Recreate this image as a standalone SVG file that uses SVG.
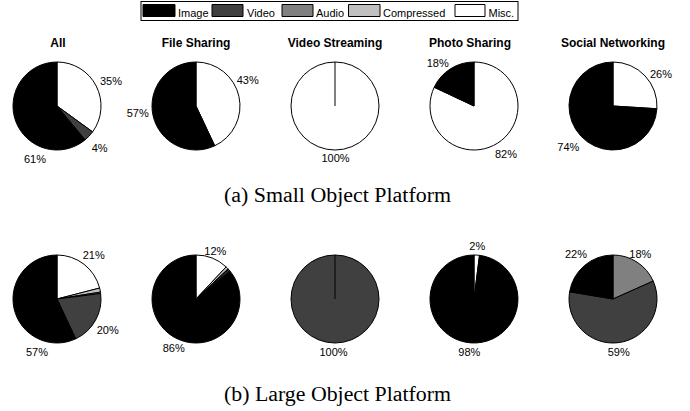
<svg xmlns="http://www.w3.org/2000/svg" width="690" height="411" viewBox="0 0 690 411">
<style>
.lab{font-family:"Liberation Sans",Arial,sans-serif;font-size:11px;fill:#000}
.ttl{font-family:"Liberation Sans",Arial,sans-serif;font-size:12px;font-weight:bold;fill:#000;text-anchor:middle}
.cap{font-family:"Liberation Serif","Times New Roman",serif;font-size:20px;fill:#000}
.s{stroke:#000;stroke-width:1;stroke-linejoin:round}
.img{fill:#000}.vid{fill:#404040}.aud{fill:#808080}.cmp{fill:#c0c0c0}.msc{fill:#fff}
</style>
<rect width="690" height="411" fill="#fff"/>
<g id="legend">
<rect x="141" y="1.5" width="377" height="19" fill="#fff" stroke="#000" stroke-width="1"/>
<rect class="img s" x="143" y="4.5" width="32" height="12"/>
<text class="lab" x="178" y="16.5">Image</text>
<rect class="vid s" x="212" y="4.5" width="31" height="12"/>
<text class="lab" x="247" y="16.5">Video</text>
<rect class="aud s" x="282" y="4.5" width="31" height="12"/>
<text class="lab" x="316" y="16.5">Audio</text>
<rect class="cmp s" x="348.5" y="4.5" width="31.5" height="12"/>
<text class="lab" x="383" y="16.5">Compressed</text>
<rect class="msc s" x="455" y="4.5" width="30" height="12"/>
<text class="lab" x="488.5" y="16.5">Misc.</text>
</g>
<g id="small-all">
<text class="ttl" x="58" y="47">All</text>
<path class="msc s" d="M57,106 L57,62 A44,44 0 0 1 92.6,131.86 Z"/>
<path class="vid s" d="M57,106 L92.6,131.86 A44,44 0 0 1 85.05,139.9 Z"/>
<path class="img s" d="M57,106 L85.05,139.9 A44,44 0 1 1 57,62 Z"/>
<text class="lab" x="100" y="85">35%</text>
<text class="lab" x="91.7" y="151.7">4%</text>
<text class="lab" x="24" y="163.3">61%</text>
</g>
<g id="small-file">
<text class="ttl" x="196" y="47">File Sharing</text>
<path class="msc s" d="M196,106 L196,62 A44,44 0 0 1 214.73,145.81 Z"/>
<path class="img s" d="M196,106 L214.73,145.81 A44,44 0 1 1 196,62 Z"/>
<text class="lab" x="236.7" y="84">43%</text>
<text class="lab" x="126.7" y="116.5">57%</text>
</g>
<g id="small-video">
<text class="ttl" x="335" y="47">Video Streaming</text>
<circle class="msc s" cx="335" cy="106" r="44"/>
<line class="s" x1="335" y1="106" x2="335" y2="62"/>
<text class="lab" x="321.5" y="161.7">100%</text>
</g>
<g id="small-photo">
<text class="ttl" x="470" y="47">Photo Sharing</text>
<path class="msc s" d="M474,106 L474,62 A44,44 0 1 1 434.19,87.27 Z"/>
<path class="img s" d="M474,106 L434.19,87.27 A44,44 0 0 1 474,62 Z"/>
<text class="lab" x="426.7" y="67.3">18%</text>
<text class="lab" x="495" y="158.3">82%</text>
</g>
<g id="small-social">
<text class="ttl" x="613" y="47">Social Networking</text>
<path class="msc s" d="M613,106 L613,62 A44,44 0 0 1 656.91,108.76 Z"/>
<path class="img s" d="M613,106 L656.91,108.76 A44,44 0 1 1 613,62 Z"/>
<text class="lab" x="650" y="77.7">26%</text>
<text class="lab" x="557.3" y="150.7">74%</text>
</g>
<text id="caption-a" class="cap" x="224" y="202" textLength="227" lengthAdjust="spacingAndGlyphs">(a) Small Object Platform</text>
<g id="large-all">
<path class="msc s" d="M57,299 L57,255 A44,44 0 0 1 99.62,288.06 Z"/>
<path class="cmp s" d="M57,299 L99.62,288.06 A44,44 0 0 1 100.46,292.12 Z"/>
<path class="aud s" d="M57,299 L100.46,292.12 A44,44 0 0 1 100.65,293.49 Z"/>
<path class="vid s" d="M57,299 L100.65,293.49 A44,44 0 0 1 75.73,338.81 Z"/>
<path class="img s" d="M57,299 L75.73,338.81 A44,44 0 1 1 57,255 Z"/>
<text class="lab" x="82.7" y="259.3">21%</text>
<text class="lab" x="96.7" y="334.3">20%</text>
<text class="lab" x="26" y="355.7">57%</text>
</g>
<g id="large-file">
<path class="msc s" d="M196,299 L196,255 A44,44 0 0 1 226.12,266.92 Z"/>
<path class="cmp s" d="M196,299 L226.12,266.92 A44,44 0 0 1 228.08,268.88 Z"/>
<path class="aud s" d="M196,299 L228.08,268.88 A44,44 0 0 1 228.65,269.5 Z"/>
<path class="vid s" d="M196,299 L228.65,269.5 A44,44 0 0 1 229.9,270.95 Z"/>
<path class="img s" d="M196,299 L229.9,270.95 A44,44 0 1 1 196,255 Z"/>
<text class="lab" x="204.3" y="255">12%</text>
<text class="lab" x="162.7" y="352.3">86%</text>
</g>
<g id="large-video">
<circle class="vid s" cx="335" cy="299" r="44"/>
<line class="s" x1="335" y1="299" x2="335" y2="255"/>
<text class="lab" x="319.5" y="356">100%</text>
</g>
<g id="large-photo">
<path class="msc s" d="M474,299 L474,255 A44,44 0 0 1 479.51,255.35 Z"/>
<path class="img s" d="M474,299 L479.51,255.35 A44,44 0 1 1 474,255 Z"/>
<text class="lab" x="469.3" y="250">2%</text>
<text class="lab" x="458.3" y="355.7">98%</text>
</g>
<g id="large-social">
<path class="aud s" d="M613,299 L613,255 A44,44 0 0 1 653.19,281.1 Z"/>
<path class="vid s" d="M613,299 L653.19,281.1 A44,44 0 1 1 569.6,291.74 Z"/>
<path class="img s" d="M613,299 L569.6,291.74 A44,44 0 0 1 613,255 Z"/>
<text class="lab" x="565" y="258.3">22%</text>
<text class="lab" x="629.3" y="258.3">18%</text>
<text class="lab" x="607.7" y="355.7">59%</text>
</g>
<text id="caption-b" class="cap" x="224" y="401" textLength="227" lengthAdjust="spacingAndGlyphs">(b) Large Object Platform</text>
</svg>
